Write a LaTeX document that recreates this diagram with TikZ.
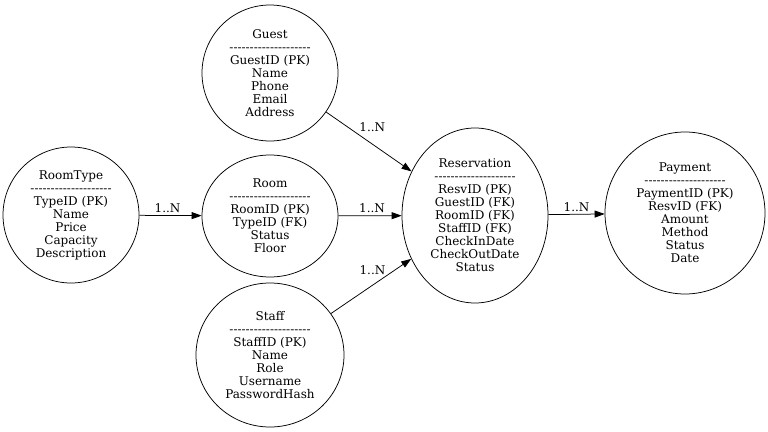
\documentclass[tikz,border=0pt]{standalone}
\usepackage{fontspec}
\setmainfont{DejaVu Serif}[Ligatures=TeXOff]
\usetikzlibrary{arrows.meta,shapes.geometric}
\newcommand{\sepline}{--------------------}

\begin{document}
\begin{tikzpicture}[
    x=1pt, y=-1pt, % pixel units, (0,0) at top left
    entity/.style={ellipse, draw, line width=0.75pt, inner sep=0pt, align=center,
                   font=\fontsize{12}{13}\selectfont},
    arr/.style={-{Triangle[length=10pt, width=7pt]}, line width=0.75pt},
    lbl/.style={inner sep=0pt, font=\fontsize{12}{13}\selectfont}
]
\useasboundingbox (0,0) rectangle (768,431);

\node[entity, minimum width=136pt, minimum height=136pt] (roomtype) at (71,215)
  {RoomType\\\sepline\\TypeID (PK)\\Name\\Price\\Capacity\\Description};
\node[entity, minimum width=136pt, minimum height=136pt] (guest) at (270,73)
  {Guest\\\sepline\\GuestID (PK)\\Name\\Phone\\Email\\Address};
\node[entity, minimum width=136pt, minimum height=122pt] (room) at (270,216)
  {Room\\\sepline\\RoomID (PK)\\TypeID (FK)\\Status\\Floor};
\node[entity, minimum width=148pt, minimum height=144pt] (staff) at (270,355)
  {Staff\\\sepline\\StaffID (PK)\\Name\\Role\\Username\\PasswordHash};
\node[entity, minimum width=146pt, minimum height=175pt] (resv) at (475,215.5)
  {Reservation\\\sepline\\ResvID (PK)\\GuestID (FK)\\RoomID (FK)\\StaffID (FK)\\CheckInDate\\CheckOutDate\\Status};
\node[entity, minimum width=160pt, minimum height=162pt] (payment) at (685,213)
  {Payment\\\sepline\\PaymentID (PK)\\ResvID (FK)\\Amount\\Method\\Status\\Date};

\foreach \src/\dst/\up/\dx in {roomtype/room/2.5/-3, room/resv/2.5/2, guest/resv/10/3.5,
                               staff/resv/11.6/1.4, resv/payment/2.5/0} {
    \draw[arr] (\src) -- (\dst) node[lbl, midway, above=\up pt, xshift=\dx pt] {1..N};
}
\end{tikzpicture}
\end{document}
